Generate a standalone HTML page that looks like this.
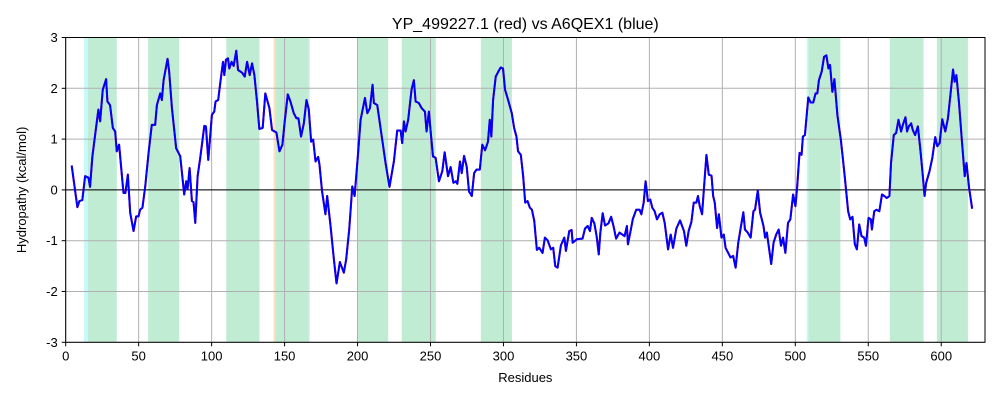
<!DOCTYPE html>
<html><head><meta charset="utf-8"><style>
body{margin:0;background:#fff;}
svg text{font-family:"Liberation Sans","DejaVu Sans",sans-serif;fill:#000;}
</style></head><body>
<svg id="chart" width="1000" height="400" xmlns="http://www.w3.org/2000/svg">
<rect width="1000" height="400" fill="#fff"/>
<g id="shades"></g><g id="grid"></g><g id="lines"></g><g id="axes"></g>
</svg>
<script>
const residues=[4.1,8,9.4,11.4,13.3,15.6,16.7,18.3,20.6,22.4,23.6,25.4,27.7,28.6,30.4,32.3,33.9,35,36.6,39.6,40.9,42.6,44.2,46.5,48.3,49.9,51,52.6,54.5,56.8,59,61.3,62.5,64.8,65.9,67.1,69.8,70.9,72.8,75.7,77.3,78.5,81.2,82.6,83.5,84.9,86.5,87.6,88.8,90.4,92.2,95,96.1,97.7,100.2,101.8,102.7,104.5,105.9,107.8,108.7,109.8,111.2,112.1,113.7,115.1,116.9,118.1,120.8,122.7,124.3,126.1,127.7,129.3,131.1,132.7,135,136.8,139.6,141.4,144.4,146.5,148.5,150.1,152.2,154,156.3,158.1,159.5,161.3,163.2,165,166.6,168.2,169.6,171.2,173,173.9,175.7,178,179.2,181.5,183.8,185.6,187.9,190.6,192.2,194.3,196.4,198,200.2,202.1,205.1,206.7,208.5,210.3,211.2,213.5,216.9,219.2,221.9,224.9,227.2,229.5,230.6,231.8,232.9,234.7,237,238.6,239.8,242,243.9,246.2,247.3,248.9,250.1,251.7,253.5,255.8,258.1,259.7,262,263.8,265.7,267.3,268.4,270.2,271.4,273,274.8,276.4,278.3,279.9,281.5,283.8,285.5,287.4,289.4,290.6,291.7,292.9,294.7,296.5,298.1,299.7,301.1,303.2,305.7,307.3,308.9,310,311.9,313.5,314.9,316.5,318.1,319.5,321.1,322.9,324.5,326.8,328.4,330.2,332.5,334.1,335.5,337.1,339.4,341.7,342.8,345.1,346.7,347.4,350.4,354.2,355.9,357.7,359.3,360.5,362.3,363.9,365.3,366.4,368,369.6,371.9,373.8,375.4,377.2,379.5,383,384.6,385.3,386.9,388.7,391,393.3,394.5,396.1,397.4,399,400.6,402,403.6,405.2,407.1,408.9,410.5,412.8,414.6,416.2,418.5,421,423.7,425.3,426.9,428.8,430.4,432.2,433.3,434.5,436.1,437.5,439.1,440.7,442.6,443.7,444.8,446.4,447.6,449.4,451,452.2,454,455.6,457.4,459.1,460.9,462.8,464.4,465.5,467.4,469.4,471.3,472.4,474.3,475.9,478.2,479.3,480.5,482.1,483.5,485.1,486.9,488.6,490.2,491.6,493.2,495,496.6,498.5,500.1,501.3,502.9,504.3,505.2,506.6,508.9,510.5,512.3,513.9,515.1,516.2,518.1,519.7,521.3,522.7,523.8,525.4,526.8,528.9,531.2,532.8,534.2,536.2,537.6,539.2,540.8,542.2,543.8,545.4,547.2,548.4,550.2,551.8,552.5,554.1,555.7,557.6,559.4,561,562.6,564.5,565.6,567.5,569.1,570.7,572.5,573.7,575.5,576.6,577.8,579.4,580.5,582.1,584,585.6,587,588.6,589.7,592,593.9,595.9,597.3,598.9,600.7,602.8,604.6,606.2,608.1,609.2,610.4,612.2,614.1,616.1,617.3,619.1,621.2];
const blueValues=[0.48,-0.34,-0.22,-0.2,0.27,0.24,0.06,0.66,1.18,1.58,1.35,1.97,2.18,1.74,1.67,1.22,1.15,0.76,0.89,-0.06,-0.06,0.3,-0.45,-0.81,-0.52,-0.52,-0.39,-0.35,0.07,0.73,1.28,1.28,1.67,1.9,1.77,2.16,2.58,2.33,1.61,0.82,0.73,0.66,-0.09,0.17,0.01,0.43,-0.22,-0.24,-0.65,0.27,0.63,1.26,1.25,0.59,1.48,1.54,1.74,1.77,2.1,2.52,2.26,2.56,2.59,2.39,2.52,2.44,2.74,2.36,2.31,2.23,2.52,2.26,2.49,2.26,1.74,1.2,1.22,1.9,1.61,1.18,1.13,0.76,0.89,1.35,1.88,1.74,1.51,1.41,1.41,1.05,1.31,1.77,1.58,0.95,0.99,0.56,0.65,0.5,-0.03,-0.48,-0.12,-0.71,-1.37,-1.84,-1.42,-1.63,-1.37,-0.78,0.07,-0.12,0.66,1.38,1.81,1.51,1.61,2.07,1.71,1.67,0.99,0.53,0.06,0.56,1.17,1.17,0.92,1.35,1.15,1.38,1.97,2.16,1.74,1.71,1.61,1.54,1.15,1.54,1.15,0.66,0.63,0.17,0.37,0.74,0.27,0.45,0.14,0.17,0.12,0.56,0.33,0.67,0.46,-0.03,-0.12,0.33,0.4,0.4,0.89,0.78,0.95,1.38,1.05,1.77,2.23,2.33,2.41,2.39,1.97,1.77,1.51,1.22,1.05,0.76,0.69,0.27,-0.25,-0.22,-0.35,-0.39,-0.61,-1.18,-1.14,-1.24,-0.94,-0.99,-1.17,-1.14,-1.5,-1.53,-1.09,-0.94,-1.2,-0.81,-0.79,-1.04,-0.97,-0.96,-0.76,-0.71,-0.81,-0.55,-0.66,-0.92,-1.27,-0.84,-0.46,-0.7,-0.66,-0.53,-0.71,-0.96,-0.84,-0.91,-0.71,-1.07,-0.84,-0.57,-0.39,-0.39,-0.48,-0.25,0.17,-0.22,-0.19,-0.35,-0.42,-0.58,-0.48,-0.45,-0.65,-1.17,-0.88,-1.14,-0.76,-0.6,-0.81,-1.1,-0.81,-0.63,-0.25,-0.25,-0.12,-0.32,-0.48,0.07,0.69,0.3,0.28,-0.12,-0.25,-0.75,-0.48,-0.94,-0.88,-1.14,-1.24,-1.33,-1.3,-1.53,-1.04,-0.71,-0.44,-0.78,-0.84,-0.94,-0.42,-0.39,-0.01,-0.45,-0.71,-0.94,-0.84,-1.17,-1.46,-1.04,-0.88,-0.78,-1.1,-0.94,-1.24,-0.65,-0.58,-0.09,-0.32,0.07,0.73,0.69,1.05,1.08,1.82,1.72,1.72,1.9,1.9,2.16,2.33,2.62,2.65,2.39,2.46,1.93,2.18,1.46,0.99,0.56,0.17,-0.42,-0.58,-0.53,-1.07,-1.17,-0.68,-0.91,-0.94,-1.1,-0.55,-0.58,-0.78,-0.42,-0.39,-0.42,-0.09,-0.12,-0.16,-0.12,0.53,1.08,1.12,1.38,1.15,1.28,1.43,1.15,1.25,1.31,1.18,1.08,1.25,0.82,0.4,-0.12,0.14,0.37,0.63,1.04,0.86,0.92,1.39,1.15,1.41,1.84,2.37,2.13,2.26,1.71,0.99,0.27,0.53,0.04,-0.37];
const redValues=blueValues.slice();
const greenStarts=[15.3,56.5,110,143.8,200.3,230.3,284.5,509,564.8,597];
const greenEnds=[35,77.8,132.8,166.6,221,253.6,305.8,530.9,587.9,618.3];
const xTicks=[0,50,100,150,200,250,300,350,400,450,500,550,600];
const yTicks=[-3,-2,-1,0,1,2,3];

const L=65.7,R=985,T=37.5,B=342.3,XMAX=630;
const xs=r=>L+r*(R-L)/XMAX;
const ys=v=>B-(v+3)*(B-T)/6;
const NS='http://www.w3.org/2000/svg';
function mk(tag,parent,attrs){const e=document.createElementNS(NS,tag);for(const k in attrs)e.setAttribute(k,attrs[k]);parent.appendChild(e);return e;}
const shades=document.getElementById('shades'),grid=document.getElementById('grid'),lines=document.getElementById('lines'),axes=document.getElementById('axes');

let c1=mk('rect',shades,{x:xs(12.6),y:T,width:xs(15.3)-xs(12.6),height:B-T,fill:'#c6fafa'});


let c2=mk('rect',shades,{x:xs(507.8),y:T,width:xs(509)-xs(507.8),height:B-T,fill:'#c6fafa'});


let o1=mk('rect',shades,{x:xs(142.4),y:T,width:xs(143.8)-xs(142.4),height:B-T,fill:'#fde2bd'});


let c3=mk('rect',shades,{x:xs(166.6),y:T,width:xs(167.4)-xs(166.6),height:B-T,fill:'#c6fafa'});


greenStarts.forEach((s,i)=>{
  const r=mk('rect',shades,{x:xs(s),y:T,width:xs(greenEnds[i])-xs(s),height:B-T,fill:'#c0ecd4'});
  
  
});
xTicks.forEach(t=>{
  const g=mk('line',grid,{x1:xs(t),x2:xs(t),y1:T,y2:B,stroke:'#b0b0b0','stroke-width':1});
  
  
  const tk=mk('line',axes,{x1:xs(t),x2:xs(t),y1:B,y2:B+4,stroke:'#000','stroke-width':1});
  
  
  const tx=mk('text',axes,{x:xs(t),y:B+18,'font-size':13,'text-anchor':'middle'});
  tx.textContent=t;
  
  
});
yTicks.forEach(t=>{
  const g=mk('line',grid,{x1:L,x2:R,y1:ys(t),y2:ys(t),stroke:'#b0b0b0','stroke-width':1});
  
  
  const tk=mk('line',axes,{x1:L-4,x2:L,y1:ys(t),y2:ys(t),stroke:'#000','stroke-width':1});
  
  
  const tx=mk('text',axes,{x:L-8,y:ys(t)+4.5,'font-size':13,'text-anchor':'end'});
  tx.textContent=t;
  
  
});
const zl=mk('line',grid,{x1:L,x2:R,y1:ys(0),y2:ys(0),stroke:'#000','stroke-width':1});


function pathOf(vals){return residues.map((r,i)=>(i?'L':'M')+xs(r).toFixed(2)+','+ys(vals[i]).toFixed(2)).join('');}
const red=mk('path',lines,{d:pathOf(redValues),fill:'none',stroke:'#ff0000','stroke-width':2,'stroke-linejoin':'round'});


const blue=mk('path',lines,{d:pathOf(blueValues),fill:'none',stroke:'#0000ff','stroke-width':2,'stroke-linejoin':'round'});


const fr=mk('rect',axes,{x:L,y:T,width:R-L,height:B-T,fill:'none',stroke:'#000','stroke-width':1});


const title=mk('text',axes,{x:(L+R)/2,y:29,'font-size':16,'text-anchor':'middle'});
title.textContent='YP_499227.1 (red) vs A6QEX1 (blue)';


const xl=mk('text',axes,{x:(L+R)/2,y:382,'font-size':13,'text-anchor':'middle'});
xl.textContent='Residues';


const yl=mk('text',axes,{x:0,y:0,'font-size':13,'text-anchor':'middle',transform:'translate(26,'+((T+B)/2)+') rotate(-90)'});
yl.textContent='Hydropathy (kcal/mol)';


</script>
</body></html>
